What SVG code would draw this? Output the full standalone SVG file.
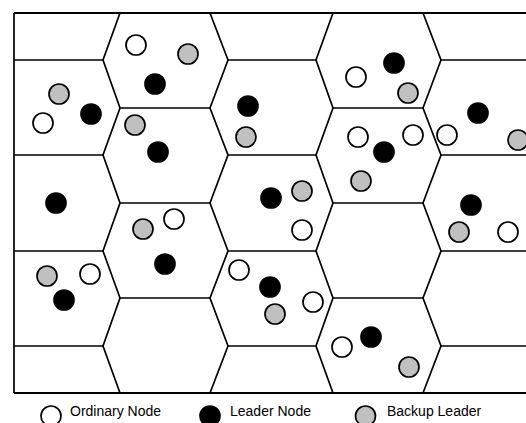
<svg xmlns="http://www.w3.org/2000/svg" width="526" height="423" viewBox="0 0 526 423">
<style>
.ln{fill:none;stroke:#000;stroke-width:1.7;stroke-linejoin:miter}
.fr{fill:none;stroke:#000;stroke-width:2}
.o{fill:#fff;stroke:#000;stroke-width:1.7}
.l{fill:#000;stroke:#000;stroke-width:1.7}
.b{fill:#c0c0c0;stroke:#000;stroke-width:1.7}
.t{font-family:"Liberation Sans",Arial,sans-serif;font-size:14px;fill:#000}
</style>
<rect width="526" height="423" fill="#fff"/>
<g id="connectors">
<path class="fr" d="M14,13H526M14,393H526"/>
<path class="ln" d="M14,13V393"/>
<path class="ln" d="M120,13L103,60L120,108L103,155L120,203L103,251L120,298L103,346L120,393"/>
<path class="ln" d="M210,13L228,60L210,108L228,155L210,203L228,251L210,298L228,346L210,393"/>
<path class="ln" d="M333,13L316,60L333,108L316,155L333,203L316,251L333,298L316,346L333,393"/>
<path class="ln" d="M423,13L441,60L423,108L441,155L423,203L441,251L423,298L441,346L423,393"/>
<path class="ln" d="M120,108H210M120,203H210M120,298H210M333,108H423M333,203H423M333,298H423"/>
<path class="ln" d="M14,60H103M228,60H316M441,60H526M14,155H103M228,155H316M441,155H526M14,251H103M228,251H316M441,251H526M14,346H103M228,346H316M441,346H526"/>
</g>
<g id="cellA1"><circle class="o" cx="136" cy="45" r="10"/><circle class="b" cx="188" cy="54" r="10"/><circle class="l" cx="155" cy="84" r="10"/></g>
<g id="cellL2"><circle class="b" cx="59" cy="94" r="10"/><circle class="l" cx="91" cy="114" r="10"/><circle class="o" cx="43" cy="123" r="10"/></g>
<g id="cellA2"><circle class="b" cx="135" cy="125" r="10"/><circle class="l" cx="158" cy="152" r="10"/></g>
<g id="cellM2"><circle class="l" cx="248" cy="106" r="10"/><circle class="b" cx="246" cy="137" r="10"/></g>
<g id="cellB1"><circle class="l" cx="394" cy="63" r="10"/><circle class="o" cx="356" cy="77" r="10"/><circle class="b" cx="408" cy="93" r="10"/></g>
<g id="cellR2"><circle class="l" cx="478" cy="113" r="10"/><circle class="o" cx="447" cy="135" r="10"/><circle class="b" cx="518" cy="140" r="10"/></g>
<g id="cellB2"><circle class="o" cx="358" cy="137" r="10"/><circle class="o" cx="413" cy="135" r="10"/><circle class="l" cx="384" cy="152" r="10"/><circle class="b" cx="361" cy="181" r="10"/></g>
<g id="cellL3"><circle class="l" cx="56" cy="203" r="10"/></g>
<g id="cellM3"><circle class="l" cx="271" cy="198" r="10"/><circle class="b" cx="302" cy="191" r="10"/><circle class="o" cx="302" cy="230" r="10"/></g>
<g id="cellR3"><circle class="l" cx="471" cy="205" r="10"/><circle class="b" cx="459" cy="232" r="10"/><circle class="o" cx="508" cy="232" r="10"/></g>
<g id="cellA3"><circle class="b" cx="143" cy="229" r="10"/><circle class="o" cx="174" cy="219" r="10"/><circle class="l" cx="165" cy="264" r="10"/></g>
<g id="cellL4"><circle class="b" cx="47" cy="276" r="10"/><circle class="o" cx="90" cy="274" r="10"/><circle class="l" cx="64" cy="300" r="10"/></g>
<g id="cellM4"><circle class="o" cx="239" cy="270" r="10"/><circle class="l" cx="270" cy="287" r="10"/><circle class="o" cx="313" cy="302" r="10"/><circle class="b" cx="275" cy="314" r="10"/></g>
<g id="cellB4"><circle class="l" cx="371" cy="337" r="10"/><circle class="o" cx="342" cy="347" r="10"/><circle class="b" cx="409" cy="367" r="10"/></g>
<g id="legend">
<circle class="o" cx="51" cy="416" r="10"/><text class="t" x="70" y="416">Ordinary Node</text>
<circle class="l" cx="210" cy="416" r="10"/><text class="t" x="230" y="416">Leader Node</text>
<circle class="b" cx="365.5" cy="416" r="10"/><text class="t" x="387" y="416">Backup Leader</text>
</g>
</svg>
